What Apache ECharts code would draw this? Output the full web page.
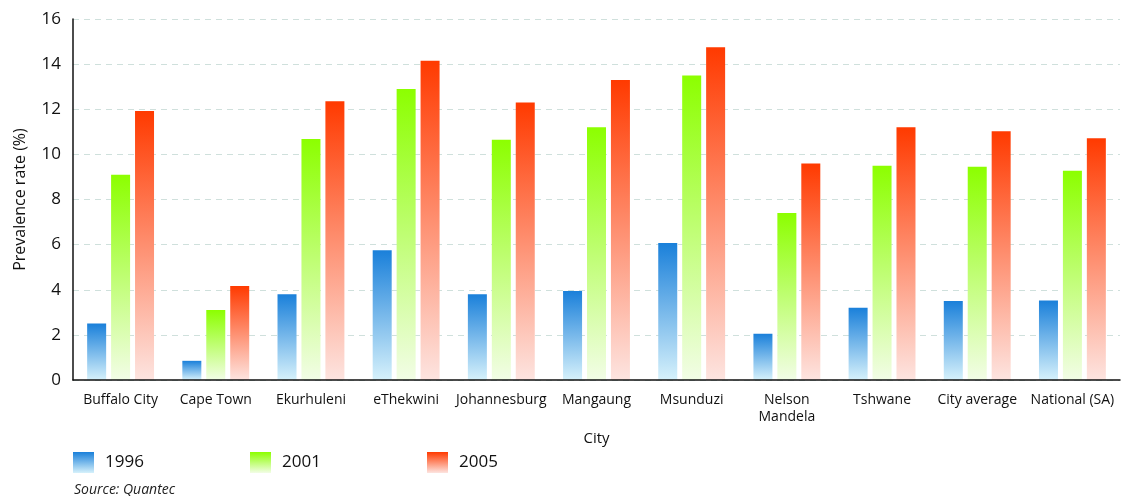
<!DOCTYPE html>
<html>
<head>
<meta charset="utf-8">
<script src="https://cdn.jsdelivr.net/npm/echarts@6/dist/echarts.min.js"></script>
<style>html,body{margin:0;padding:0;background:#fff}#c{width:1122px;height:496px}</style>
</head>
<body>
<div id="c"></div>
<script>
const categories = ['Buffalo City','Cape Town','Ekurhuleni','eThekwini','Johannesburg','Mangaung','Msunduzi','Nelson\nMandela','Tshwane','City average','National (SA)'];
const values1996 = [2.5, 0.85, 3.8, 5.75, 3.8, 3.95, 6.07, 2.05, 3.2, 3.5, 3.52];
const values2001 = [9.1, 3.1, 10.68, 12.9, 10.65, 11.2, 13.5, 7.4, 9.5, 9.45, 9.27];
const values2005 = [11.92, 4.17, 12.35, 14.15, 12.3, 13.3, 14.75, 9.6, 11.2, 11.02, 10.72];
const yTicks = [0, 2, 4, 6, 8, 10, 12, 14, 16];
const FONT = '"Open Sans", "Noto Sans", sans-serif';

function grad(top, bottom) {
  return new echarts.graphic.LinearGradient(0, 0, 0, 1, [
    {offset: 0, color: top}, {offset: 1, color: bottom}
  ]);
}
const colors = {
  '1996': grad('#1a80da', '#d6f1fb'),
  '2001': grad('#8cff00', '#f2fde6'),
  '2005': grad('#ff3a00', '#fde4e0')
};

const chart = echarts.init(document.getElementById('c'));
function legend(name, left) {
  return {
    data: [name], left: left, top: 447, itemWidth: 21, itemHeight: 21, itemGap: 10,
    icon: 'rect',
    textStyle: {fontFamily: FONT, fontSize: 17, color: '#111', padding: [0,0,0,6]}
  };
}
function series(name, data) {
  return {
    name: name, type: 'bar', data: data, barWidth: 19, barGap: '26%',
    itemStyle: {color: colors[name]}
  };
}
chart.setOption({
  animation: false,
  grid: {left: 73, right: 2, top: 19, bottom: 116, containLabel: false},
  legend: [legend('1996', 68), legend('2001', 245), legend('2005', 422)],
  graphic: [{
    type: 'text', left: 74, top: 483,
    style: {text: 'Source: Quantec', fontFamily: FONT, fontStyle: 'italic', fontSize: 14, fill: '#222'}
  }],
  xAxis: {
    type: 'category', data: categories, z: 5,
    name: 'City', nameLocation: 'middle', nameGap: 43,
    nameTextStyle: {fontFamily: FONT, fontSize: 15, color: '#111'},
    axisLine: {lineStyle: {color: '#111', width: 1.5}},
    axisTick: {show: false},
    axisLabel: {interval: 0, fontFamily: FONT, fontSize: 14, color: '#111', margin: 12, lineHeight: 17}
  },
  yAxis: {
    type: 'value', min: 0, max: 16, interval: 2,
    name: 'Prevalence rate (%)', nameLocation: 'middle', nameGap: 45,
    nameTextStyle: {fontFamily: FONT, fontSize: 16, color: '#111'},
    axisLine: {show: true, lineStyle: {color: '#111', width: 1.5}},
    axisTick: {show: false},
    axisLabel: {fontFamily: FONT, fontSize: 17, color: '#111', margin: 12},
    splitLine: {show: true, lineStyle: {color: '#cfe0dc', type: [6, 5], width: 1}}
  },
  series: [series('1996', values1996), series('2001', values2001), series('2005', values2005)]
});
</script>
</body>
</html>
